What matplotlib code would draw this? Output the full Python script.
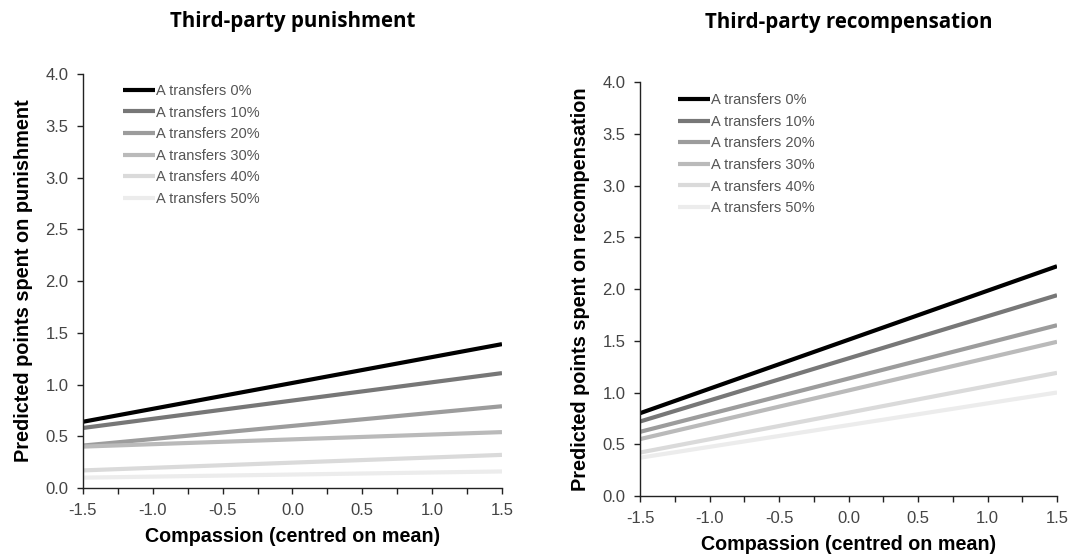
import matplotlib
matplotlib.use("Agg")
import matplotlib.pyplot as plt
from matplotlib.ticker import MultipleLocator, FormatStrFormatter

compassion = [-1.5, 1.5]
labels = ["A transfers 0%", "A transfers 10%", "A transfers 20%",
          "A transfers 30%", "A transfers 40%", "A transfers 50%"]
colors = ["#000000", "#777777", "#9c9c9c", "#bababa", "#dadada", "#ececec"]

punish_start = [0.64, 0.58, 0.41, 0.40, 0.17, 0.10]
punish_end = [1.39, 1.11, 0.79, 0.54, 0.32, 0.16]
recomp_start = [0.80, 0.72, 0.62, 0.55, 0.42, 0.37]
recomp_end = [2.22, 1.94, 1.65, 1.49, 1.19, 1.00]

plt.rcParams['font.family'] = ['Liberation Sans', 'DejaVu Sans']

fig = plt.figure(figsize=(10.83, 5.56), dpi=100)
ax1 = fig.add_axes([0.0766, 0.1223, 0.3869, 0.7446])
ax2 = fig.add_axes([0.591, 0.1079, 0.385, 0.7446])

panels = [
    (ax1, punish_start, punish_end, "Third-party punishment",
     "Predicted points spent on punishment", (0.096, 0.976), 0.962),
    (ax2, recomp_start, recomp_end, "Third-party recompensation",
     "Predicted points spent on recompensation", (0.092, 0.973), 0.959),
]

for ax, st, en, title, ylab, anc, ty in panels:
    for s, e, c, lab in zip(st, en, colors, labels):
        ax.plot(compassion, [s, e], color=c, lw=3.0, label=lab,
                solid_capstyle='butt')
    ax.set_xlim(-1.5, 1.5)
    ax.set_ylim(0, 4.0)
    ax.xaxis.set_major_locator(MultipleLocator(0.5))
    ax.xaxis.set_minor_locator(MultipleLocator(0.25))
    ax.yaxis.set_major_locator(MultipleLocator(0.5))
    ax.xaxis.set_major_formatter(FormatStrFormatter('%.1f'))
    ax.yaxis.set_major_formatter(FormatStrFormatter('%.1f'))
    for sp in ['top', 'right']:
        ax.spines[sp].set_visible(False)
    for sp in ['left', 'bottom']:
        ax.spines[sp].set_color('#222222')
        ax.spines[sp].set_linewidth(1.0)
    ax.tick_params(axis='both', which='both', direction='out', length=4.5,
                   width=1.0, color='#222222', labelsize=12,
                   labelcolor='#444444')
    ax.tick_params(axis='x', which='minor', length=4.5)
    ax.tick_params(axis='x', pad=6)
    ax.tick_params(axis='y', pad=6)
    ax.set_xlabel("Compassion (centred on mean)", fontsize=14.2,
                  fontweight='bold', labelpad=7)
    ax.set_ylabel(ylab, fontsize=14.3, fontweight='bold', labelpad=9)
    bb = ax.get_position()
    fig.text((bb.x0 + bb.x1) / 2, ty, title, fontsize=14.8,
             fontweight='bold', family=['Open Sans', 'DejaVu Sans'],
             ha='center', va='center')
    leg = ax.legend(loc='upper left', bbox_to_anchor=anc, frameon=False,
                    fontsize=10.5, handlelength=2.2, handletextpad=0.05,
                    labelspacing=0.52, borderpad=0, borderaxespad=0)
    for t in leg.get_texts():
        t.set_color('#555555')

fig.savefig("out.png", dpi=100)
